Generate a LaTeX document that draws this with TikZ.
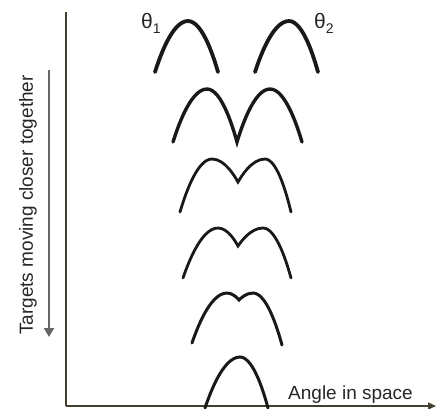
\documentclass[tikz,border=0pt]{standalone}
\usepackage{fontspec}
\setmainfont{Liberation Sans}
\usetikzlibrary{arrows.meta}
\begin{document}
\begin{tikzpicture}[x=1pt,y=-1pt,
  beam/.style={line width=3.2pt,color=black!90,line cap=round},
  axis/.style={line width=1.4pt,color=black!70!olive},
  lbl/.style={inner sep=0pt,font=\fontsize{19}{21}\selectfont,color=black!85},
  glbl/.style={inner sep=0pt,font=\fontsize{21}{22}\selectfont,color=black!85}]
\useasboundingbox (0,0) rectangle (445,408);
% axes
\coordinate (top) at (66,12);
\coordinate (origin) at (66,406);
\coordinate (xend) at (436,406);
\draw[axis] (top) -- (origin);
\draw[axis,-{Triangle[length=8pt,width=7pt]}] (origin) -- (xend);
% side arrow
\coordinate (as) at (49,70);
\coordinate (ae) at (49,337);
\draw[line width=2pt,color=black!60,-{Triangle[length=9pt,width=10pt]}] (as) -- (ae);
\node[lbl,rotate=90] (side) at (28,205) {Targets moving closer together};
\node[lbl,anchor=base west] (angle) at (288,399) {Angle in space};
% labels
\node[glbl,anchor=base west] (t1) at (141,28) {θ\raisebox{-5pt}{\fontsize{14}{14}\selectfont 1}};
\node[glbl,anchor=base west] (t2) at (314,28) {θ\raisebox{-5pt}{\fontsize{14}{14}\selectfont 2}};
% beams
\draw[beam,line width=3.8pt] (155,72) parabola bend (188,21) (218,72);
\draw[beam,line width=3.8pt] (255,72) parabola bend (289,21) (318,72);
\draw[beam,line width=3.4pt] (173,142) parabola bend (207,89) (237,142) parabola bend (270,89) (302,142);
\draw[beam,line width=2.8pt,line join=miter] (180,212) parabola bend (212,159) (238,182) parabola bend (265,159) (291,212);
\draw[beam,line width=2.8pt,line join=miter] (183,278) parabola bend (218,228) (238,246) parabola bend (263,228) (291,278);
\draw[beam,line width=3pt] (192,343) parabola bend (227,293) (239,300) parabola bend (253,293) (282,345);
\draw[beam,line width=3pt] (205,408) parabola bend (240,357) (268,408);
\end{tikzpicture}
\end{document}
